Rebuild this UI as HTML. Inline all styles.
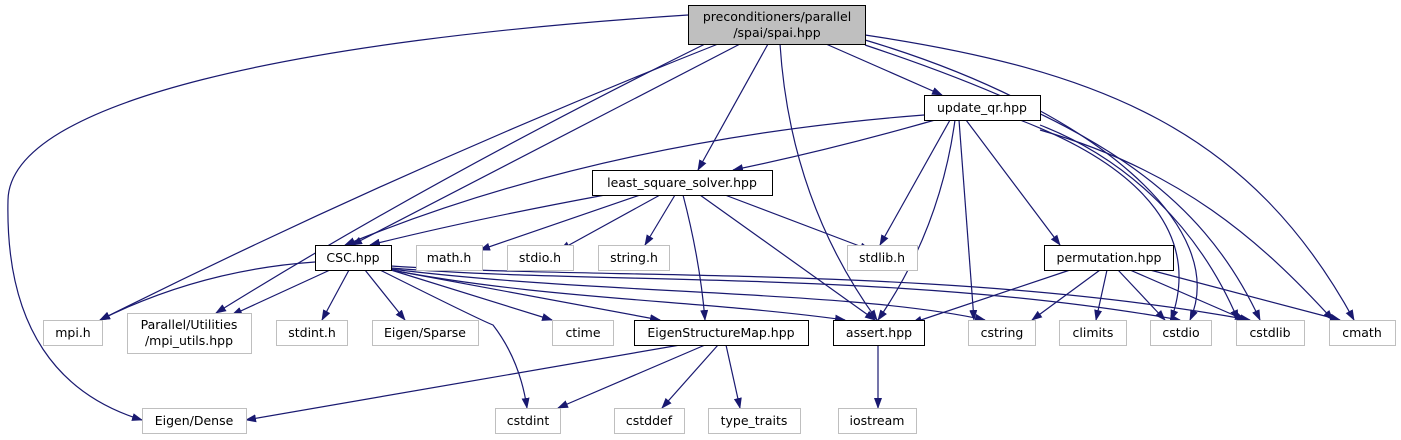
<!DOCTYPE html>
<html><head><meta charset="utf-8"><style>
html,body{margin:0;padding:0;background:#fff;width:1401px;height:440px;overflow:hidden}
svg text{font-family:"DejaVu Sans","Liberation Sans",sans-serif;font-size:12.5px;fill:#000}
</style></head><body>
<svg width="1401" height="440" viewBox="0 0 1401 440" xmlns="http://www.w3.org/2000/svg">
<defs><marker id="a" markerWidth="11" markerHeight="8" refX="10" refY="4" orient="auto" markerUnits="userSpaceOnUse"><path d="M0,0 L11,4 L0,8 z" fill="#191970"/></marker></defs>
<g fill="none" stroke="#191970" stroke-width="1.2" marker-end="url(#a)">
<!-- spai -->
<path d="M826,44 L942,95"/>
<path d="M768,44 L698,170"/>
<path d="M740,44 L352,245"/>
<path d="M780,44 Q790,200 877,320"/>
<path d="M718,44 Q400,170 100,320"/>
<path d="M705,44 Q430,180 216,313"/>
<path d="M688,15 C300,40 10,100 8,200 C5,330 60,395 142,420"/>
<path d="M865,40 C1100,110 1230,230 1190,320"/>
<path d="M865,45 C1090,120 1200,190 1260,320"/>
<path d="M865,35 C1100,70 1250,130 1354,320"/>
<!-- update_qr -->
<path d="M924,115 Q600,140 345,245"/>
<path d="M935,120 Q830,150 733,170"/>
<path d="M950,120 L880,245"/>
<path d="M955,120 Q940,230 878,320"/>
<path d="M959,120 L974,320"/>
<path d="M966,120 L1060,245"/>
<path d="M1020,120 C1150,170 1200,240 1171,320"/>
<path d="M1040,125 C1130,160 1200,230 1238,320"/>
<path d="M1040,130 C1180,170 1260,240 1333,320"/>
<!-- least_square -->
<path d="M605,195 Q470,220 370,245"/>
<path d="M640,195 L480,250"/>
<path d="M660,195 L560,250"/>
<path d="M675,195 L645,245"/>
<path d="M683,195 Q700,260 705,320"/>
<path d="M700,195 L875,320"/>
<path d="M725,195 L870,250"/>
<!-- CSC -->
<path d="M315,262 Q200,270 100,320"/>
<path d="M330,270 L232,315"/>
<path d="M349,270 L322,320"/>
<path d="M365,270 L405,320"/>
<path d="M380,270 Q480,320 493,325 Q520,360 527,408"/>
<path d="M391,270 L552,320"/>
<path d="M391,270 L660,320"/>
<path d="M391,270 C550,300 700,300 845,320"/>
<path d="M391,269 C600,295 850,290 985,320"/>
<path d="M391,268 C600,285 900,270 1180,320"/>
<path d="M391,266 C600,280 950,265 1250,320"/>
<!-- permutation -->
<path d="M1070,270 L912,323"/>
<path d="M1100,270 L1032,320"/>
<path d="M1107,270 L1096,320"/>
<path d="M1118,270 L1165,320"/>
<path d="M1130,270 L1245,320"/>
<path d="M1150,270 L1340,320"/>
<!-- EigenStructureMap -->
<path d="M680,345 L246,420"/>
<path d="M705,345 L558,408"/>
<path d="M718,345 L662,408"/>
<path d="M726,345 L740,408"/>
<!-- assert -->
<path d="M878,345 L878,408"/>
</g>
<g stroke-width="1">
<rect x="688.5" y="5.5" width="177" height="39" fill="#bfbfbf" stroke="#000"/>
<g fill="#fff" stroke="#000">
<rect x="924.5" y="95.5" width="116" height="25"/>
<rect x="592.5" y="170.5" width="180" height="25"/>
<rect x="315.5" y="245.5" width="76" height="25"/>
<rect x="1044.5" y="245.5" width="129" height="25"/>
<rect x="634.5" y="320.5" width="174" height="25"/>
<rect x="833.5" y="320.5" width="91" height="25"/>
</g>
<g fill="#fff" stroke="#bfbfbf">
<rect x="416.5" y="245.5" width="66" height="25"/>
<rect x="507.5" y="245.5" width="66" height="25"/>
<rect x="598.5" y="245.5" width="71" height="25"/>
<rect x="847.5" y="245.5" width="70" height="25"/>
<rect x="43.5" y="320.5" width="59" height="25"/>
<rect x="127.5" y="313.5" width="124" height="40"/>
<rect x="276.5" y="320.5" width="71" height="25"/>
<rect x="372.5" y="320.5" width="106" height="25"/>
<rect x="552.5" y="320.5" width="61" height="25"/>
<rect x="968.5" y="320.5" width="67" height="25"/>
<rect x="1059.5" y="320.5" width="67" height="25"/>
<rect x="1150.5" y="320.5" width="61" height="25"/>
<rect x="1236.5" y="320.5" width="68" height="25"/>
<rect x="1329.5" y="320.5" width="66" height="25"/>
<rect x="142.5" y="408.5" width="104" height="25"/>
<rect x="495.5" y="408.5" width="65" height="25"/>
<rect x="614.5" y="408.5" width="70" height="25"/>
<rect x="708.5" y="408.5" width="92" height="25"/>
<rect x="838.5" y="408.5" width="78" height="25"/>
</g>
</g>
<g text-anchor="middle">
<text x="777" y="21">preconditioners/parallel</text>
<text x="777" y="37">/spai/spai.hpp</text>
<text x="982" y="112">update_qr.hpp</text>
<text x="682" y="187">least_square_solver.hpp</text>
<text x="353" y="262">CSC.hpp</text>
<text x="449" y="262">math.h</text>
<text x="540" y="262">stdio.h</text>
<text x="634" y="262">string.h</text>
<text x="882" y="262">stdlib.h</text>
<text x="1109" y="262">permutation.hpp</text>
<text x="73" y="337">mpi.h</text>
<text x="189" y="329">Parallel/Utilities</text>
<text x="189" y="345">/mpi_utils.hpp</text>
<text x="312" y="337">stdint.h</text>
<text x="425" y="337">Eigen/Sparse</text>
<text x="583" y="337">ctime</text>
<text x="721" y="337">EigenStructureMap.hpp</text>
<text x="879" y="337">assert.hpp</text>
<text x="1002" y="337">cstring</text>
<text x="1093" y="337">climits</text>
<text x="1181" y="337">cstdio</text>
<text x="1270" y="337">cstdlib</text>
<text x="1362" y="337">cmath</text>
<text x="194" y="425">Eigen/Dense</text>
<text x="528" y="425">cstdint</text>
<text x="649" y="425">cstddef</text>
<text x="754" y="425">type_traits</text>
<text x="877" y="425">iostream</text>
</g>
</svg>
</body></html>
